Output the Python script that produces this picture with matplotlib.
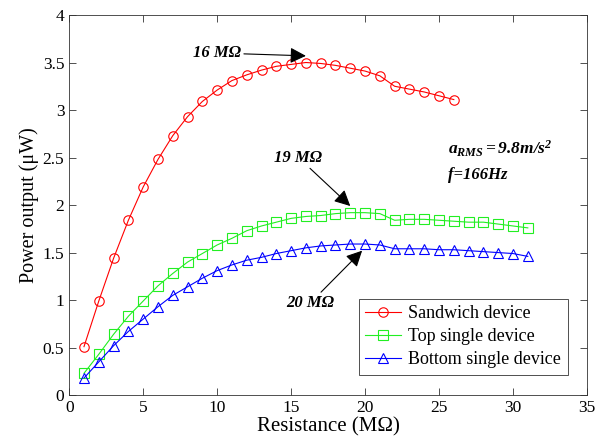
import matplotlib
matplotlib.use("Agg")
import matplotlib.pyplot as plt
import numpy as np

# resistance (MOhm) and power output (uW)
r_sandwich = list(range(1, 27))
p_sandwich = [0.51, 0.99, 1.44, 1.84, 2.19, 2.48, 2.73, 2.93, 3.09, 3.21,
              3.31, 3.37, 3.42, 3.46, 3.48, 3.50, 3.49, 3.47, 3.44, 3.41,
              3.36, 3.25, 3.22, 3.19, 3.15, 3.11]
r_top = list(range(1, 32))
p_top = [0.23, 0.43, 0.64, 0.83, 0.99, 1.15, 1.28, 1.40, 1.49, 1.58,
         1.65, 1.73, 1.78, 1.82, 1.86, 1.88, 1.89, 1.91, 1.92, 1.92,
         1.91, 1.84, 1.85, 1.85, 1.84, 1.83, 1.82, 1.82, 1.80, 1.78, 1.76]
r_bottom = list(range(1, 32))
p_bottom = [0.18, 0.35, 0.52, 0.67, 0.80, 0.93, 1.05, 1.14, 1.23, 1.31,
            1.37, 1.42, 1.45, 1.49, 1.52, 1.55, 1.57, 1.58, 1.59, 1.59,
            1.58, 1.54, 1.54, 1.54, 1.53, 1.53, 1.52, 1.51, 1.50, 1.49, 1.46]

plt.rcParams['font.family'] = ['Liberation Serif', 'DejaVu Serif']
plt.rcParams['mathtext.fontset'] = 'custom'
plt.rcParams['mathtext.rm'] = 'Liberation Serif'
plt.rcParams['mathtext.it'] = 'Liberation Serif:italic'
plt.rcParams['mathtext.bf'] = 'Liberation Serif:bold'
plt.rcParams['mathtext.bfit'] = 'Liberation Serif:bold:italic'

fig = plt.figure(figsize=(6.07, 4.41), dpi=100)
ax = fig.add_axes([0.114, 0.104, 0.853, 0.862])

mk = dict(markerfacecolor='none', markersize=6.8, linewidth=0.8, markeredgewidth=0.8)
ax.plot(r_sandwich, p_sandwich, '-o', color='#ff0000', label='Sandwich device', **mk)
ax.plot(r_top, p_top, '-s', color='#22ee22', label='Top single device', **mk)
ax.plot(r_bottom, p_bottom, '-^', color='#0000ff', label='Bottom single device', **mk)

ax.set_xlim(0, 35)
ax.set_ylim(0, 4)
ax.set_xticks(np.arange(0, 36, 5))
ax.set_yticks(np.arange(0, 4.01, 0.5))
ax.set_yticklabels(['0', '0.5', '1', '1.5', '2', '2.5', '3', '3.5', '4'])
ax.tick_params(direction='in', top=True, right=True, labelsize=12.5, length=5, width=0.6, colors='#333333')
ax.tick_params(labelcolor='black')
for s in ax.spines.values():
    s.set_linewidth(0.6)
    s.set_color('#333333')
ax.set_xlabel('Resistance (MΩ)', fontsize=15, labelpad=1)
ax.set_ylabel('Power output (μW)', fontsize=14.5, labelpad=3)

ann = dict(fontsize=12, fontweight='bold', fontstyle='italic')
arrow = dict(arrowstyle='-|>', color='black', lw=0.8, mutation_scale=24, shrinkA=0, shrinkB=0)
ax.annotate('16 MΩ', xy=(16, 3.57), xytext=(10, 3.6), ha='center', va='center',
            arrowprops=arrow, **ann)
ax.annotate('19 MΩ', xy=(19.0, 1.99), xytext=(15.5, 2.5), ha='center', va='center',
            arrowprops=arrow, **ann)
ax.annotate('20 MΩ', xy=(19.8, 1.52), xytext=(16.3, 0.97), ha='center', va='center',
            arrowprops=arrow, **ann)
ax.text(25.6, 2.59, r'$\mathbfit{a}_{\mathbfit{RMS}}\mathbfit{=9.8m/s}^{\mathbfit{2}}$',
        fontsize=12.5, ha='left', va='center')
ax.text(25.6, 2.32, 'f=166Hz', ha='left', va='center', **ann)

leg = ax.legend(loc='lower right', bbox_to_anchor=(0.98, 0.03), fontsize=13,
                fancybox=False, edgecolor='#333333', framealpha=1,
                handlelength=2.0, handletextpad=0.4, borderpad=0.35, labelspacing=0.33)
leg.get_frame().set_linewidth(0.6)

fig.savefig('out.png', dpi=100)
